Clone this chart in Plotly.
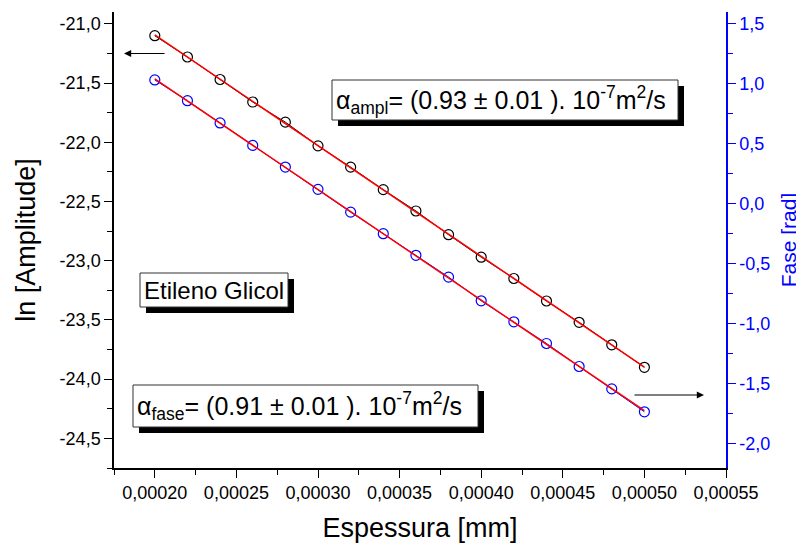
import numpy as np
import plotly.graph_objects as go

# ---------------- data ----------------
espessura = [0.00020, 0.00022, 0.00024, 0.00026, 0.00028, 0.00030, 0.00032, 0.00034,
             0.00036, 0.00038, 0.00040, 0.00042, 0.00044, 0.00046, 0.00048, 0.00050]
ln_amplitude = [-21.10, -21.28, -21.47, -21.66, -21.83, -22.03, -22.21, -22.40,
                -22.58, -22.78, -22.97, -23.15, -23.34, -23.52, -23.71, -23.90]
fase = [1.033, 0.860, 0.674, 0.487, 0.306, 0.120, -0.07, -0.25,
        -0.43, -0.612, -0.810, -0.985, -1.166, -1.358, -1.545, -1.736]

x_tickvals = [0.00020, 0.00025, 0.00030, 0.00035, 0.00040, 0.00045, 0.00050, 0.00055]
x_ticktext = ["0,00020", "0,00025", "0,00030", "0,00035", "0,00040", "0,00045", "0,00050", "0,00055"]
y_tickvals = [-21.0, -21.5, -22.0, -22.5, -23.0, -23.5, -24.0, -24.5]
y_ticktext = ["-21,0", "-21,5", "-22,0", "-22,5", "-23,0", "-23,5", "-24,0", "-24,5"]
y2_tickvals = [1.5, 1.0, 0.5, 0.0, -0.5, -1.0, -1.5, -2.0]
y2_ticktext = ["1,5", "1,0", "0,5", "0,0", "-0,5", "-1,0", "-1,5", "-2,0"]

label_ampl = "α<sub>ampl</sub>= (0.93 ± 0.01 ). 10<sup>-7</sup>m<sup>2</sup>/s"
label_fase = "α<sub>fase</sub>= (0.91 ± 0.01 ). 10<sup>-7</sup>m<sup>2</sup>/s"
label_sample = "Etileno Glicol"

# linear fits
xa = np.array(espessura)
fit_a = np.polyfit(xa, ln_amplitude, 1)
fit_f = np.polyfit(xa, fase, 1)
xfit = [espessura[0], espessura[-1]]

FONT = "Liberation Sans, Arial, sans-serif"
OFF = 8  # default page body margin of the html page
W, H = 804 - OFF, 547 - OFF
# plot area in page pixels
L, R, T, B = 114, 726, 12, 468


def px(x):
    return (x - L) / (R - L)


def py(y):
    return (B - y) / (B - T)


fig = go.Figure()
fig.add_trace(go.Scatter(x=espessura, y=ln_amplitude, mode="lines+markers",
                         line=dict(color="black", width=1),
                         marker=dict(symbol="circle-open", size=10, color="black", line=dict(width=1.2)),
                         xaxis="x", yaxis="y", showlegend=False))
fig.add_trace(go.Scatter(x=xfit, y=list(np.polyval(fit_a, xfit)), mode="lines",
                         line=dict(color="red", width=1.5), xaxis="x", yaxis="y", showlegend=False))
fig.add_trace(go.Scatter(x=espessura, y=fase, mode="lines+markers",
                         line=dict(color="blue", width=1),
                         marker=dict(symbol="circle-open", size=10, color="blue", line=dict(width=1.2)),
                         xaxis="x", yaxis="y2", showlegend=False))
fig.add_trace(go.Scatter(x=xfit, y=list(np.polyval(fit_f, xfit)), mode="lines",
                         line=dict(color="red", width=1.5), xaxis="x", yaxis="y2", showlegend=False))

tickfont = dict(family=FONT, size=18, color="black")

fig.update_layout(
    width=W, height=H,
    margin=dict(l=L - OFF, r=804 - R, t=T - OFF, b=547 - B, autoexpand=False),
    paper_bgcolor="white", plot_bgcolor="white",
    xaxis=dict(range=[0.000175, 0.00055], tickvals=x_tickvals, ticktext=x_ticktext,
               ticks="outside", ticklen=8, tickwidth=1.2, tickcolor="black", automargin=False,
               minor=dict(ticks="outside", ticklen=5, tickwidth=1.2, tickcolor="black",
                          tickvals=[0.000175, 0.000225, 0.000275, 0.000325, 0.000375, 0.000425, 0.000475, 0.000525]),
               showline=True, linecolor="black", linewidth=1.5, showgrid=False, zeroline=False,
               tickfont=tickfont,
               title=dict(text="Espessura [mm]", font=dict(family=FONT, size=27, color="black"), standoff=16)),
    xaxis2=dict(range=[0.000175, 0.00055], overlaying="x", side="top", anchor="y",
                tickvals=x_tickvals, showticklabels=False, automargin=False,
                ticks="inside", ticklen=6, tickwidth=1.2, tickcolor="black",
                minor=dict(ticks="inside", ticklen=4, tickwidth=1.2, tickcolor="black",
                           tickvals=[0.000225, 0.000275, 0.000325, 0.000375, 0.000425, 0.000475, 0.000525]),
                showline=True, linecolor="black", linewidth=1.5, showgrid=False, zeroline=False),
    yaxis=dict(range=[-24.75, -20.9], tickvals=y_tickvals, ticktext=y_ticktext,
               ticks="outside", ticklen=8, tickwidth=1.2, tickcolor="black", automargin=False,
               minor=dict(ticks="outside", ticklen=5, tickwidth=1.2, tickcolor="black",
                          tickvals=[-21.25, -21.75, -22.25, -22.75, -23.25, -23.75, -24.25, -24.75]),
               showline=True, linecolor="black", linewidth=1.5, showgrid=False, zeroline=False,
               tickfont=tickfont,
               title=dict(text="ln [Amplitude]", font=dict(family=FONT, size=27, color="black"), standoff=16)),
    yaxis2=dict(range=[-2.205, 1.6], overlaying="y", side="right", anchor="x",
                tickvals=y2_tickvals, ticktext=y2_ticktext, automargin=False,
                ticks="outside", ticklen=8, tickwidth=1.2, tickcolor="blue",
                minor=dict(ticks="outside", ticklen=5, tickwidth=1.2, tickcolor="blue",
                           tickvals=[1.25, 0.75, 0.25, -0.25, -0.75, -1.25, -1.75]),
                showline=True, linecolor="blue", linewidth=1.5, showgrid=False, zeroline=False,
                tickfont=dict(family=FONT, size=18, color="blue"),
                title=dict(text="Fase [rad]", font=dict(family=FONT, size=21, color="blue"), standoff=12)),
)

shapes = []
boxes = [
    (332, 80, 678, 120),   # ampl
    (133, 385, 478, 427),  # fase
    (140, 273, 288, 307),  # sample
]
for (x0, y0, x1, y1) in boxes:
    shapes.append(dict(type="rect", xref="paper", yref="paper",
                       x0=px(x0 + 6), x1=px(x1 + 6), y0=py(y1 + 6), y1=py(y0 + 6),
                       fillcolor="black", line=dict(width=0), layer="above"))
    shapes.append(dict(type="rect", xref="paper", yref="paper",
                       x0=px(x0), x1=px(x1), y0=py(y1), y1=py(y0),
                       fillcolor="white", line=dict(color="#333333", width=1), layer="above"))
fig.update_layout(shapes=shapes)

annots = [
    dict(text=label_ampl, x=px(334), y=py(100), xanchor="left", yanchor="middle", size=25),
    dict(text=label_fase, x=px(135), y=py(406), xanchor="left", yanchor="middle", size=25),
    dict(text=label_sample, x=px(214), y=py(290), xanchor="center", yanchor="middle", size=24),
]
for a in annots:
    size = a.pop("size")
    fig.add_annotation(xref="paper", yref="paper", showarrow=False,
                       font=dict(family=FONT, size=size, color="black"), **a)

# arrows
fig.add_annotation(xref="paper", yref="paper", x=px(124), y=py(53.5), ax=42, ay=0,
                   showarrow=True, arrowhead=2, arrowsize=1.2, arrowwidth=1.2,
                   arrowcolor="black", text="")
fig.add_annotation(xref="paper", yref="paper", x=px(704), y=py(395), ax=-71, ay=0,
                   showarrow=True, arrowhead=2, arrowsize=1.2, arrowwidth=1.2,
                   arrowcolor="black", text="")

fig.write_html("out.html")
